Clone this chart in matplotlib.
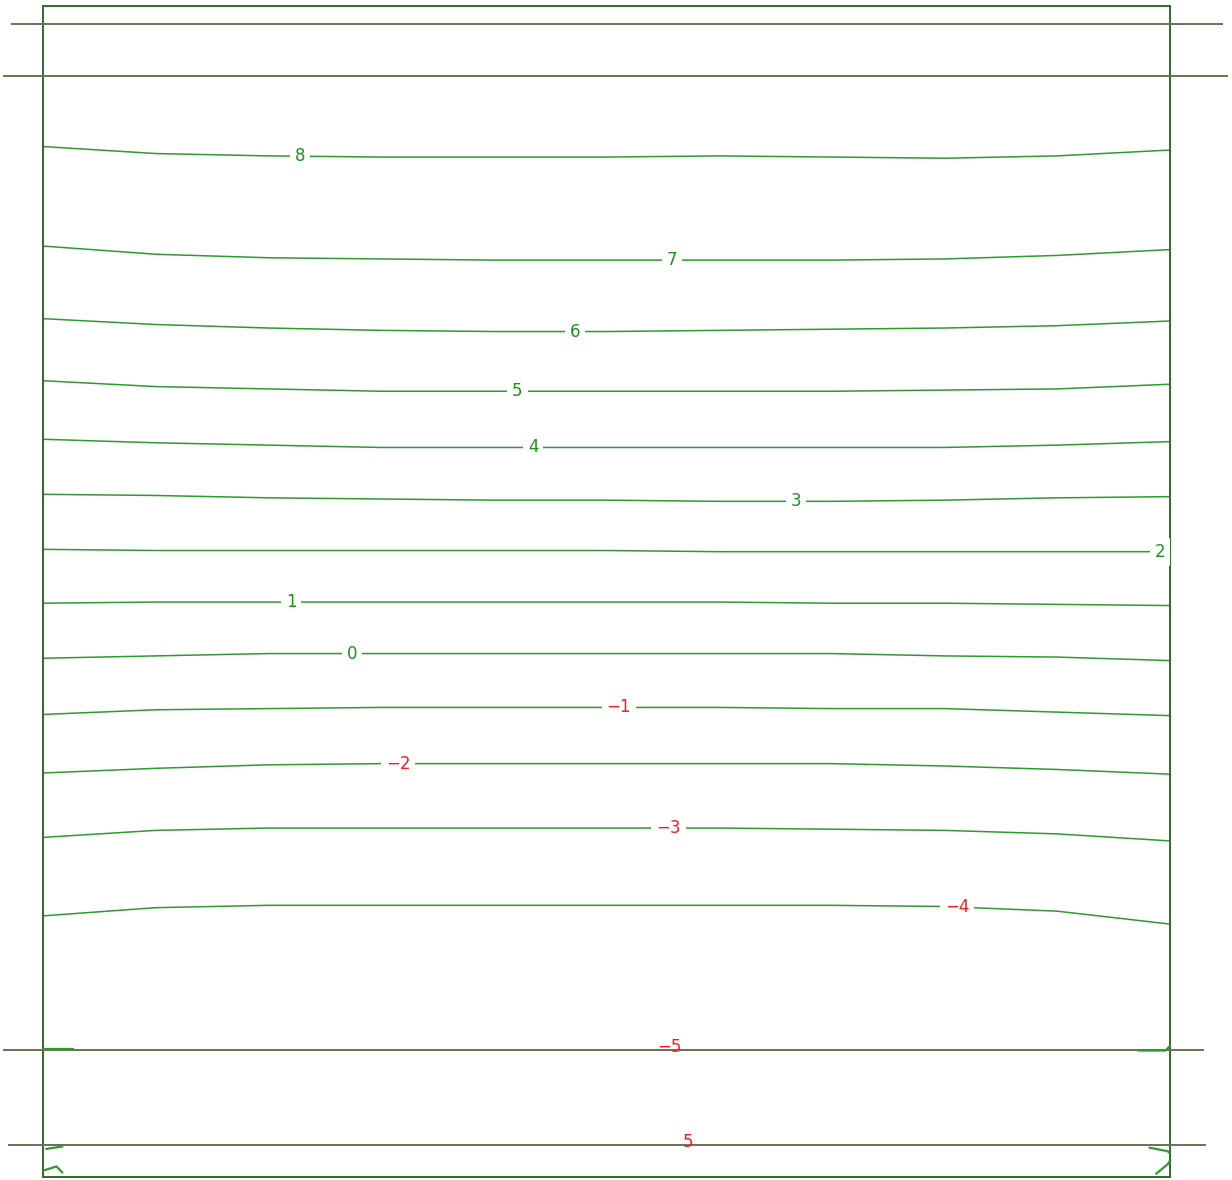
import numpy as np
import matplotlib
matplotlib.use('Agg')
import matplotlib.pyplot as plt

# x positions (percent of width) where each contour depth was read
xs = [0, 10, 20, 30, 40, 50, 60, 70, 80, 90, 100]

# contour levels and their depth (percent of height) at xs
levels = [8, 7, 6, 5, 4, 3, 2, 1, 0, -1, -2, -3, -4]
depths = [
    [12.0, 12.6, 12.8, 12.9, 12.9, 12.9, 12.8, 12.9, 13.0, 12.8, 12.3],
    [20.5, 21.2, 21.5, 21.6, 21.7, 21.7, 21.7, 21.7, 21.6, 21.3, 20.8],
    [26.7, 27.2, 27.5, 27.7, 27.8, 27.8, 27.7, 27.6, 27.5, 27.3, 26.9],
    [32.0, 32.5, 32.7, 32.9, 32.9, 32.9, 32.9, 32.9, 32.8, 32.7, 32.3],
    [37.0, 37.3, 37.5, 37.7, 37.7, 37.7, 37.7, 37.7, 37.7, 37.5, 37.2],
    [41.7, 41.8, 42.0, 42.1, 42.2, 42.2, 42.3, 42.3, 42.2, 42.0, 41.9],
    [46.4, 46.5, 46.5, 46.5, 46.5, 46.5, 46.6, 46.6, 46.6, 46.6, 46.6],
    [51.0, 50.9, 50.9, 50.9, 50.9, 50.9, 50.9, 51.0, 51.0, 51.1, 51.2],
    [55.7, 55.5, 55.3, 55.3, 55.3, 55.3, 55.3, 55.3, 55.5, 55.6, 55.9],
    [60.5, 60.1, 60.0, 59.9, 59.9, 59.9, 59.9, 60.0, 60.0, 60.3, 60.6],
    [65.5, 65.1, 64.8, 64.7, 64.7, 64.7, 64.7, 64.7, 64.9, 65.2, 65.6],
    [71.0, 70.4, 70.2, 70.2, 70.2, 70.2, 70.2, 70.3, 70.4, 70.7, 71.3],
    [77.7, 77.0, 76.8, 76.8, 76.8, 76.8, 76.8, 76.8, 76.9, 77.3, 78.4],
]
label_x = [22.8, 55.8, 47.2, 42.1, 43.5, 66.8, 99.1, 22.0, 27.4, 51.1, 31.5, 55.5, 81.1]

# straight reference lines (depth, x start, x end, label, label x)
ref_depth = [1.54, 5.98, 89.15, 97.27]
ref_x0 = [-2.75, -3.46, -3.46, -3.0]
ref_x1 = [104.6, 105.1, 102.9, 103.1]
ref_label = [None, None, -5, 5]
ref_label_x = [None, None, 55.6, 57.2]

# short contour fragments near the bottom corners
stub_x = [[0, 2.7], [97.2, 99.6, 100], [0.3, 1.7], [98.2, 99.8, 100],
          [0.2, 1.2, 1.7], [98.8, 99.8, 100]]
stub_y = [[89.1, 89.1], [89.2, 89.2, 88.8], [97.6, 97.4], [97.5, 97.8, 98.0],
          [99.4, 99.1, 99.6], [99.7, 98.9, 98.6]]

line_green = '#2f9a2f'
label_green = '#1f8f1f'
label_red = '#ff1a1a'
box_green = '#2e6b2e'
ref_gray = '#6f6f55'


def fmt(v):
    return str(v).replace('-', '\u2212')


fig = plt.figure(figsize=(12.32, 11.8), dpi=100)
ax = fig.add_axes([43 / 1232, 3 / 1180, 1127 / 1232, 1171 / 1180])
ax.set_xlim(0, 100)
ax.set_ylim(100, 0)
ax.set_xticks([])
ax.set_yticks([])
for s in ax.spines.values():
    s.set_color(box_green)
    s.set_linewidth(1.4)

for lev, d, lx in zip(levels, depths, label_x):
    ax.plot(xs, d, color=line_green, lw=1.1)
    ly = np.interp(lx, xs, d)
    col = label_green if lev >= 0 else label_red
    ax.text(lx, ly, fmt(lev), color=col, fontsize=12, ha='center', va='center',
            zorder=5, clip_on=False,
            bbox=dict(facecolor='white', edgecolor='none', pad=3.5))

for sx, sy in zip(stub_x, stub_y):
    ax.plot(sx, sy, color=line_green, lw=1.6, zorder=4)

for yd, x0, x1, lab, lx in zip(ref_depth, ref_x0, ref_x1, ref_label, ref_label_x):
    ax.plot([x0, x1], [yd, yd], color=ref_gray, lw=1.4, clip_on=False, zorder=3)
    if lab is not None:
        ax.text(lx, yd - 0.25, fmt(lab), color=label_red, fontsize=12,
                ha='center', va='center', zorder=6)

plt.savefig('out.png', dpi=100)
